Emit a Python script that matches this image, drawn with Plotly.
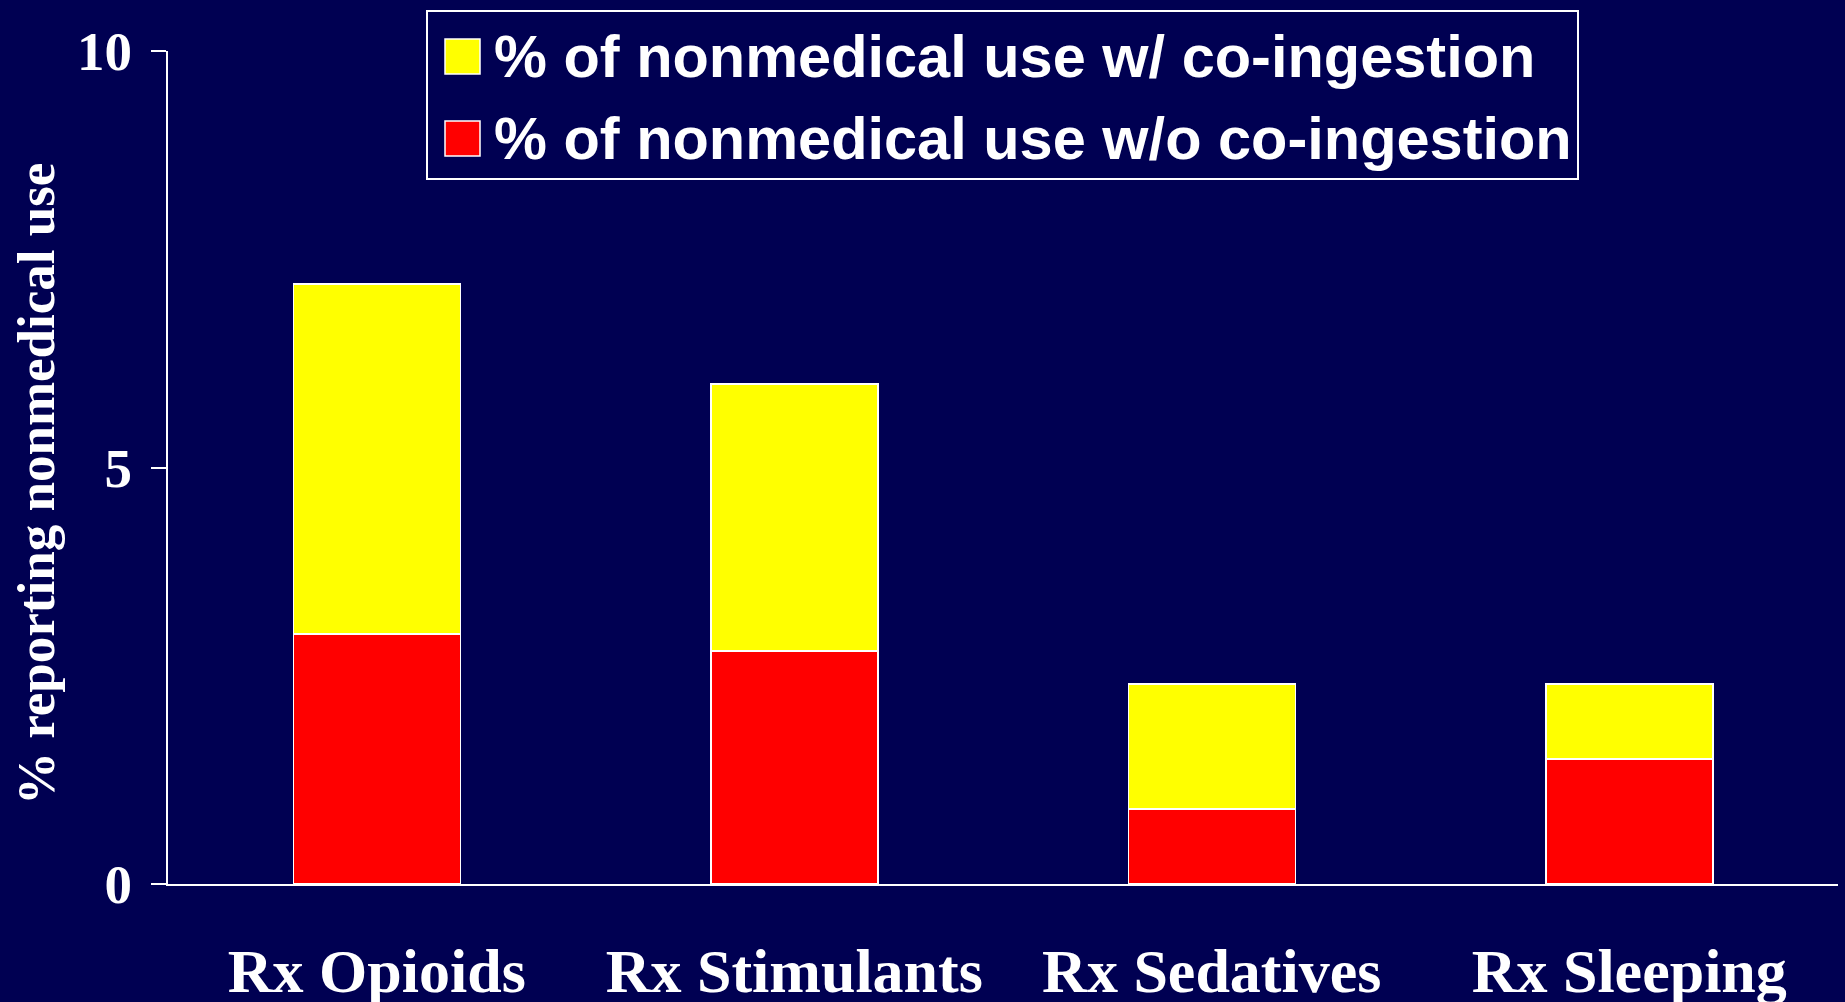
import plotly.graph_objects as go

categories = ["Rx Opioids", "Rx Stimulants", "Rx Sedatives", "Rx Sleeping"]
without_coingestion = [3.0, 2.8, 0.9, 1.5]
with_coingestion = [4.2, 3.2, 1.5, 0.9]
y_ticks = [0, 5, 10]
series_names = ["% of nonmedical use w/ co-ingestion", "% of nonmedical use w/o co-ingestion"]
y_title = "% reporting nonmedical use"

W, H = 1845, 1002
ML, MR, MT, MB = 168, 7, 51, 118
PW, PH = W - ML - MR, H - MT - MB
BG = "#000052"
SERIF = "Liberation Serif, Times New Roman, serif"
SANS = "Liberation Sans, Arial, sans-serif"


def px(x):
    return (x - ML) / PW


def py(y):
    return (H - MB - y) / PH


fig = go.Figure()
fig.add_trace(go.Bar(x=categories, y=without_coingestion, name=series_names[1],
                     marker=dict(color="#FF0000", line=dict(color="white", width=1.5))))
fig.add_trace(go.Bar(x=categories, y=with_coingestion, name=series_names[0],
                     marker=dict(color="#FFFF00", line=dict(color="white", width=1.5))))

fig.update_layout(
    width=W, height=H,
    margin=dict(l=ML, r=MR, t=MT, b=MB, pad=0, autoexpand=False),
    paper_bgcolor=BG, plot_bgcolor=BG,
    barmode="stack", bargap=0.6,
    showlegend=False,
    xaxis=dict(showgrid=False, zeroline=False, showline=True, linecolor="white", linewidth=2,
               ticks="", ticklabelstandoff=32, automargin=False,
               tickfont=dict(family=SERIF, size=62, color="white", weight="bold"),
               range=[-0.5, 3.5]),
    yaxis=dict(range=[0, 10], tickvals=y_ticks, showgrid=False, zeroline=False,
               showline=True, linecolor="white", linewidth=2, automargin=False,
               ticks="outside", ticklen=15, tickwidth=2, tickcolor="white",
               ticklabelstandoff=8,
               tickfont=dict(family=SERIF, size=55, color="white", weight="bold")),
)

# y-axis title
fig.add_annotation(text=y_title, xref="paper", yref="paper", x=px(36), y=py(484),
                   xanchor="center", yanchor="middle", textangle=-90, showarrow=False,
                   font=dict(family=SERIF, size=53, color="white", weight="bold"))

# legend box
fig.add_shape(type="rect", xref="paper", yref="paper", x0=px(427), x1=px(1578), y0=py(179), y1=py(11),
              line=dict(color="white", width=2), fillcolor=BG, layer="above")
legend_items = [(series_names[0], "#FFFF00", 39, 74, 56), (series_names[1], "#FF0000", 121, 156, 139)]
for name, col, t, b, cy in legend_items:
    fig.add_shape(type="rect", xref="paper", yref="paper", x0=px(445), x1=px(480), y0=py(b), y1=py(t),
                  line=dict(color="white", width=1.5), fillcolor=col, layer="above")
    fig.add_annotation(text=name, xref="paper", yref="paper", x=px(492), y=py(cy),
                       xanchor="left", yanchor="middle", showarrow=False,
                       font=dict(family=SANS, size=59.5, color="white", weight="bold"))

fig.write_html("out.html", config={"displayModeBar": False},
               post_script="document.body.style.margin='0';document.body.style.overflow='hidden';"
                           "document.body.style.background='" + BG + "';")
